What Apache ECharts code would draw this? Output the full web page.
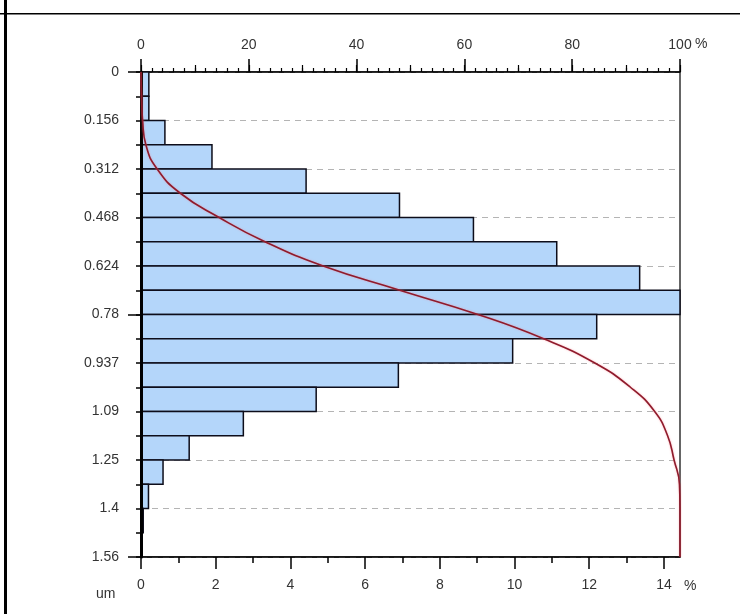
<!DOCTYPE html>
<html>
<head>
<meta charset="utf-8">
<script src="https://cdn.jsdelivr.net/npm/echarts@6/dist/echarts.min.js"></script>
<style>
  html, body { margin: 0; padding: 0; background: #fff; }
  #container { width: 740px; height: 614px; }
</style>
</head>
<body>
<div id="container"></div>
<script>
// size classes (um), 20 bins of equal width
var binStep = 0.078;
var yLabels = ['0', '0.156', '0.312', '0.468', '0.624', '0.78', '0.937', '1.09', '1.25', '1.4', '1.56'];
// % of particles in each bin (bottom axis)
var binPercent = [0.21, 0.21, 0.64, 1.90, 4.42, 6.92, 8.90, 11.13, 13.35, 14.43,
                  12.20, 9.95, 6.89, 4.69, 2.74, 1.29, 0.59, 0.20, 0.06, 0];
// cumulative % read at each bin edge (top axis)
var cumPercent = [0, 0.1, 0.3, 0.9, 3.0, 7.3, 14.5, 23.0, 33.8, 48.0, 62.5,
                  74.7, 84.2, 90.8, 95.3, 97.7, 98.9, 99.9, 100, 100, 100];
var bottomTicks = [0, 2, 4, 6, 8, 10, 12, 14];
var bottomMinor = [1, 3, 5, 7, 9, 11, 13];

var font = '"Liberation Sans", Arial, sans-serif';
var labelColor = '#333';
var xMax = 14.43;

var barData = binPercent.map(function (v, i) {
    return [i * binStep, (i + 1) * binStep, v];
});
var cumData = cumPercent.map(function (c, i) {
    return [c, i * binStep];
});

var dom = document.getElementById('container');
var myChart = echarts.init(dom, null, { renderer: 'canvas' });

var option = {
    backgroundColor: '#fff',
    animation: false,
    grid: {
        left: 141, top: 72, width: 539, height: 485,
        show: true, borderColor: '#333', borderWidth: 1.5, backgroundColor: 'transparent'
    },
    xAxis: [
        { // bottom: % per bin
            type: 'value', position: 'bottom', min: 0, max: xMax,
            axisLine: { show: true, onZero: false, lineStyle: { color: '#000', width: 1.5 } },
            axisTick: { show: true, length: 12, customValues: bottomTicks, lineStyle: { color: '#000', width: 1.5 } },
            axisLabel: { customValues: bottomTicks, margin: 21, fontSize: 14, fontFamily: font, color: labelColor },
            splitLine: { show: false }
        },
        { // top: cumulative %
            type: 'value', position: 'top', min: 0, max: 100, interval: 20,
            axisLine: { show: true, onZero: false, lineStyle: { color: '#000', width: 1.5 } },
            axisTick: { show: true, length: 13, lineStyle: { color: '#000', width: 1.5 } },
            minorTick: { show: true, splitNumber: 10, length: 4, lineStyle: { color: '#000', width: 1.2 } },
            axisLabel: { margin: 20, fontSize: 14, fontFamily: font, color: labelColor },
            splitLine: { show: false }
        },
        { // bottom minor ticks
            type: 'value', position: 'bottom', min: 0, max: xMax,
            axisLine: { show: false, onZero: false },
            axisTick: { show: true, length: 6, customValues: bottomMinor, lineStyle: { color: '#000', width: 1.5 } },
            axisLabel: { show: false },
            splitLine: { show: false }
        },
        { // top medium ticks at 10s
            type: 'value', position: 'top', min: 0, max: 100, interval: 10,
            axisLine: { show: false, onZero: false },
            axisTick: { show: true, length: 7, lineStyle: { color: '#000', width: 1.2 } },
            axisLabel: { show: false },
            splitLine: { show: false }
        }
    ],
    yAxis: [
        {
            type: 'value', inverse: true, position: 'left', min: 0, max: 1.56, interval: 0.156,
            axisLine: { show: false },
            axisTick: { show: true, length: 5, lineStyle: { color: '#000', width: 1.5 } },
            minorTick: { show: true, splitNumber: 2, length: 5, lineStyle: { color: '#000', width: 1.5 } },
            axisLabel: {
                margin: 22, fontSize: 14, fontFamily: font, color: labelColor,
                formatter: function (v) { return yLabels[Math.round(v / 0.156)]; }
            },
            splitLine: { show: true, lineStyle: { color: '#b4b4b4', type: [6, 5], width: 1 } }
        },
        { // thick axis line + long ticks
            type: 'value', inverse: true, position: 'left', min: 0, max: 1.56, interval: 0.78, z: 10,
            axisLine: { show: true, onZero: false, lineStyle: { color: '#000', width: 3 } },
            axisTick: { show: true, length: 13, lineStyle: { color: '#000', width: 1.5 } },
            axisLabel: { show: false },
            splitLine: { show: false }
        }
    ],
    graphic: [
        { type: 'rect', shape: { x: 4, y: 0, width: 3, height: 614 }, style: { fill: '#000' } },
        { type: 'rect', shape: { x: 0, y: 13, width: 740, height: 1.5 }, style: { fill: '#000' } },
        { type: 'text', left: 96, top: 587, style: { text: 'um', font: '14px ' + font, fill: labelColor } },
        { type: 'text', left: 684, top: 579, style: { text: '%', font: '14px ' + font, fill: labelColor } },
        { type: 'text', left: 695, top: 37, style: { text: '%', font: '14px ' + font, fill: labelColor } }
    ],
    series: [
        {
            name: 'Distribution',
            type: 'custom',
            xAxisIndex: 0,
            yAxisIndex: 0,
            encode: { x: 2, y: [0, 1] },
            data: barData,
            renderItem: function (params, api) {
                var p0 = api.coord([0, api.value(0)]);
                var p1 = api.coord([api.value(2), api.value(1)]);
                return {
                    type: 'rect',
                    shape: { x: p0[0], y: p0[1], width: p1[0] - p0[0], height: p1[1] - p0[1] },
                    style: { fill: '#b4d6fa', stroke: '#0d0d1a', lineWidth: 1.5 }
                };
            },
            z: 2
        },
        {
            name: 'Cumulative',
            type: 'line',
            xAxisIndex: 1,
            yAxisIndex: 0,
            data: cumData,
            showSymbol: false,
            smooth: 0.5,
            lineStyle: { color: '#8e1b2c', width: 1.6, shadowColor: 'rgba(255,110,120,0.55)', shadowBlur: 2 },
            z: 12
        }
    ]
};

if (option && typeof option === 'object') {
    myChart.setOption(option, true);
}
</script>
</body>
</html>
